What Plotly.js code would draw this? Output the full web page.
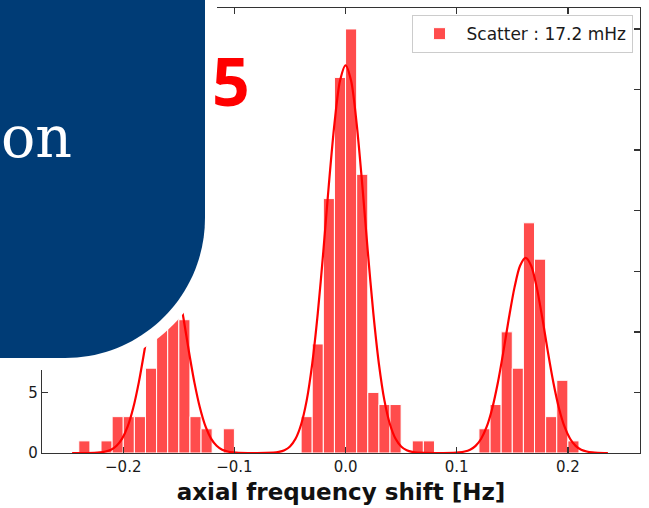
<!DOCTYPE html>
<html>
<head>
<meta charset="utf-8">
<script src="https://cdn.plot.ly/plotly-3.0.1.min.js"></script>
<style>
  html, body { margin: 0; padding: 0; background: #ffffff; }
  #chart { width: 649px; height: 508px; }
</style>
</head>
<body>
<div id="chart"></div>
<script>
// ---- data ----
const binCenters = [-0.235, -0.215, -0.205, -0.195, -0.185, -0.175, -0.165, -0.155, -0.145, -0.135, -0.125, -0.105,
                    -0.035, -0.025, -0.015, -0.005, 0.005, 0.015, 0.025, 0.035, 0.045, 0.065, 0.075,
                    0.125, 0.135, 0.145, 0.155, 0.165, 0.175, 0.185, 0.195, 0.205];
const binCounts  = [1, 1, 3, 3, 3, 7, 16, 18, 11, 3, 2, 2,
                    3, 9, 21, 31, 35, 23, 5, 4, 4, 1, 1,
                    2, 4, 10, 7, 19, 16, 3, 6, 1];
const binWidth = 0.01;

const fitX = [-0.246,
  -0.226, -0.221, -0.216, -0.211, -0.206, -0.201, -0.196, -0.191, -0.186, -0.181, -0.176, -0.171, -0.166, -0.161,
  -0.156, -0.151, -0.146, -0.141, -0.136, -0.131, -0.126, -0.121, -0.116, -0.111, -0.106, -0.101, -0.096,
  -0.065, -0.060, -0.055, -0.050, -0.045, -0.040, -0.035, -0.030, -0.025, -0.020, -0.015, -0.010, -0.005, 0.000,
  0.005, 0.010, 0.015, 0.020, 0.025, 0.030, 0.035, 0.040, 0.045, 0.050, 0.055, 0.060, 0.065,
  0.097, 0.102, 0.107, 0.112, 0.117, 0.122, 0.127, 0.132, 0.137, 0.142, 0.147, 0.152, 0.157, 0.162,
  0.167, 0.172, 0.177, 0.182, 0.187, 0.192, 0.197, 0.202, 0.207, 0.212, 0.217, 0.222, 0.227,
  0.236];
const fitY = [0,
  0.02, 0.05, 0.12, 0.27, 0.60, 1.19, 2.19, 3.73, 5.83, 8.42, 11.23, 13.75, 15.55, 16.2,
  15.55, 13.75, 11.23, 8.42, 5.83, 3.73, 2.19, 1.19, 0.60, 0.27, 0.12, 0.05, 0.02,
  0.03, 0.09, 0.23, 0.54, 1.17, 2.35, 4.32, 7.36, 11.52, 16.64, 22.18, 27.17, 30.72, 32.0,
  30.72, 27.17, 22.18, 16.64, 11.52, 7.36, 4.32, 2.35, 1.17, 0.54, 0.23, 0.09, 0.03,
  0.02, 0.05, 0.12, 0.27, 0.59, 1.18, 2.17, 3.70, 5.80, 8.37, 11.16, 13.67, 15.46, 16.1,
  15.46, 13.67, 11.16, 8.37, 5.80, 3.70, 2.17, 1.18, 0.59, 0.27, 0.12, 0.05, 0.02,
  0];

const legendLabel = 'Scatter : 17.2 mHz';
const xTickVals = [-0.2, -0.1, 0.0, 0.1, 0.2];
const xTickText = ['\u22120.2', '\u22120.1', '0.0', '0.1', '0.2'];
const yTickVals = [0, 5, 10, 15, 20, 25, 30, 35];
// labels above 5 are hidden behind the overlay panel in the reference
const yTickText = ['0', '5', '', '', '', '', '', ''];
const xTitle = 'axial frequency shift [Hz]';

// ---- traces ----
const bars = {
  type: 'bar',
  x: binCenters,
  y: binCounts,
  width: binWidth,
  name: legendLabel,
  marker: { color: 'rgba(255,0,0,0.7)', line: { color: '#ffffff', width: 1 } },
  showlegend: true
};
const fit = {
  type: 'scatter',
  mode: 'lines',
  x: fitX,
  y: fitY,
  line: { color: '#ff0000', width: 2.2, shape: 'spline', smoothing: 0.8 },
  showlegend: false
};

// pixel -> paper helpers for the overlay decoration
const L = 42, T = 8, W = 598, H = 445;
const px = v => ((v - L) / W).toFixed(5);
const py = v => ((T + H - v) / H).toFixed(5);
function roundedPanel(right, bottom, cx, cy) {
  const rx = right - cx, ry = bottom - cy, k = 0.5523;
  return 'M' + px(-20) + ',' + py(-20) +
         ' L' + px(right) + ',' + py(-20) +
         ' L' + px(right) + ',' + py(cy) +
         ' C' + px(right) + ',' + py(cy + k * ry) + ' ' + px(cx + k * rx) + ',' + py(bottom) + ' ' + px(cx) + ',' + py(bottom) +
         ' L' + px(-20) + ',' + py(bottom) + ' Z';
}

const layout = {
  width: 649,
  height: 508,
  margin: { l: L, r: 649 - L - W, t: T, b: 508 - T - H },
  paper_bgcolor: '#ffffff',
  plot_bgcolor: '#ffffff',
  bargap: 0,
  font: { family: 'DejaVu Sans', color: '#1a1a1a' },
  xaxis: {
    range: [-0.2731, 0.2649],
    tickvals: xTickVals,
    ticktext: xTickText,
    ticks: 'inside',
    ticklen: 6,
    tickwidth: 1.3,
    tickcolor: '#333333',
    showline: true,
    linecolor: '#333333',
    linewidth: 1.3,
    mirror: 'allticks',
    showgrid: false,
    zeroline: false,
    tickfont: { size: 15, family: 'DejaVu Sans', color: '#1a1a1a' },
    title: { text: xTitle, font: { size: 23, family: 'DejaVu Sans', weight: 'bold', color: '#111111' }, standoff: 8 }
  },
  yaxis: {
    range: [0, 36.73],
    tickvals: yTickVals,
    ticktext: yTickText,
    ticks: 'inside',
    ticklen: 6,
    tickwidth: 1.3,
    tickcolor: '#333333',
    showline: true,
    linecolor: '#333333',
    linewidth: 1.3,
    mirror: 'allticks',
    showgrid: false,
    zeroline: false,
    tickfont: { size: 15, family: 'DejaVu Sans', color: '#1a1a1a' }
  },
  legend: {
    x: 0.9875,
    y: 0.984,
    xanchor: 'right',
    yanchor: 'top',
    bgcolor: 'rgba(255,255,255,0.85)',
    bordercolor: '#cccccc',
    borderwidth: 1,
    itemwidth: 44,
    tracegroupgap: 0,
    font: { size: 17, family: 'DejaVu Sans', color: '#1a1a1a' }
  },
  shapes: [
    { type: 'path', xref: 'paper', yref: 'paper', layer: 'above',
      path: roundedPanel(217, 370, 65, 218), fillcolor: '#ffffff', line: { width: 0 } },
    { type: 'path', xref: 'paper', yref: 'paper', layer: 'above',
      path: roundedPanel(205, 358, 65, 218), fillcolor: '#003c76', line: { width: 0 } }
  ],
  annotations: [
    { text: 'on', xref: 'paper', yref: 'paper', x: px(0), y: py(137), xanchor: 'left', yanchor: 'middle',
      showarrow: false, borderpad: 0, font: { family: 'DejaVu Serif', size: 57, color: '#ffffff' } },
    { text: 'e', xref: 'paper', yref: 'paper', x: px(0), y: py(-24), xanchor: 'left', yanchor: 'middle',
      showarrow: false, borderpad: 0, font: { family: 'DejaVu Serif', size: 57, color: '#ffffff' } },
    { text: '5', xref: 'paper', yref: 'paper', x: px(211), y: py(80), xanchor: 'left', yanchor: 'middle',
      showarrow: false, borderpad: 0, font: { family: 'Noto Sans', size: 66, weight: 'bold', color: '#ff0000' } }
  ]
};

Plotly.newPlot('chart', [bars, fit], layout, { staticPlot: true, displayModeBar: false });
</script>
</body>
</html>
